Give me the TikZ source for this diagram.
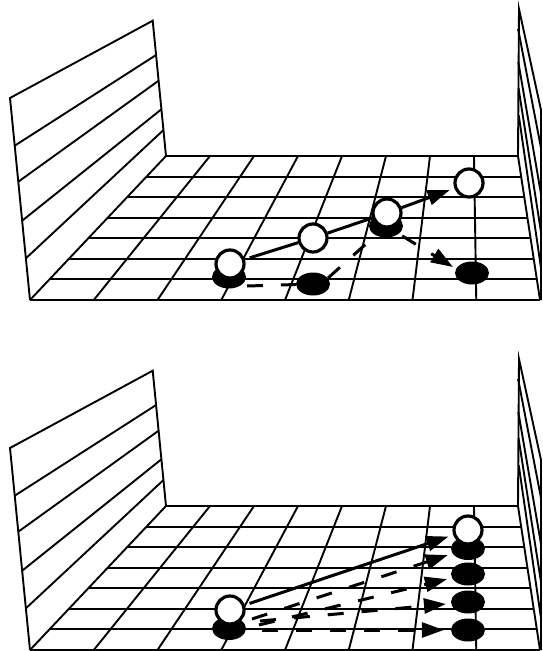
\documentclass[tikz,border=0pt]{standalone}
\usetikzlibrary{arrows.meta,shapes.geometric}
\pgfdeclarelayer{bg}
\pgfdeclarelayer{mid}
\pgfsetlayers{bg,mid,main}
\tikzset{
  gridline/.style={line width=1.9pt},
  ball/.style={circle, draw=black, fill=white, line width=3.2pt, minimum size=28pt, inner sep=0pt},
  blob/.style={ellipse, fill=black, draw=none, minimum width=34pt, minimum height=23pt, inner sep=0pt},
  solidarrow/.style={line width=3pt},
  dasharrow/.style={line width=3pt, dash pattern=on 16pt off 18pt},
  tipped/.style={-{Triangle[length=22pt,width=15pt]}}
}
\newcommand\drawroom[1]{%
  \begin{scope}[shift={(0,#1)}]
    % floor
    \foreach \j in {0,...,7}{
      \pgfmathsetmacro\yy{156+\j*144/7}
      \pgfmathsetmacro\xl{166-(\j/7)*136}
      \pgfmathsetmacro\xr{518+(\j/7)*22}
      \draw[gridline] (\xl,\yy) -- (\xr,\yy);
    }
    \foreach \i in {0,...,8}{
      \draw[gridline] ({166+44*\i},156) -- ({30+63.75*\i},300);
    }
    % left wall
    \draw[gridline] (30,300) -- (10,98) -- (152.7,20.7) -- (166,156);
    \draw[gridline] (14.7,145.7) -- (156.1,55);
    \draw[gridline] (18.3,181.7) -- (158.6,80.7);
    \draw[gridline] (22.2,220.7) -- (161.4,109.3);
    \draw[gridline] (25.9,258.3) -- (163.5,130);
    % right wall
    \draw[gridline] (518,156) -- (519,9) -- (541,110) -- (541,300);
    \draw[gridline] (518.1,29) -- (541,148);
    \draw[gridline] (518.3,62) -- (541,194);
    \draw[gridline] (518.5,88) -- (541,232);
    \draw[gridline] (518.7,115) -- (541,268);
  \end{scope}}
\begin{document}
\begin{tikzpicture}[x=1pt,y=-1pt]
\useasboundingbox (0,0) rectangle (542,651);
\begin{pgfonlayer}{bg}
  \fill[white] (0,0) rectangle (542,651);
  \drawroom{0}
  \drawroom{350}
\end{pgfonlayer}

% ---------- top panel ----------
\node[blob] (As) at (229,277) {};
\node[ball] (A) at (230,264) {};
\node[ball] (B) at (313,238) {};
\node[blob] (E) at (313,284) {};
\node[blob] (Cs) at (386,226) {};
\node[ball] (C) at (387,213) {};
\node[ball] (D) at (469,183) {};
\node[blob] (F) at (472,273) {};
\coordinate (a1) at (247,286);
\coordinate (e1) at (328,278);
\coordinate (tF) at (453,267);

\begin{pgfonlayer}{mid}
  \draw[solidarrow, shorten <=5pt] (A) -- (B);
  \draw[solidarrow] (B) -- (C);
  \draw[solidarrow, tipped, shorten >=5pt] (C) -- (D);
  \draw[dasharrow] (a1) -- (E);
  \draw[dasharrow] (e1) -- (Cs);
  \draw[dasharrow, tipped, shorten <=4pt] (Cs) -- (tF);
\end{pgfonlayer}

% ---------- bottom panel ----------
\node[blob] (Ps) at (229,628.5) {};
\node[ball] (P) at (230,610) {};
\node[blob] (Q1) at (468,548.5) {};
\node[blob] (Q2) at (468,574) {};
\node[blob] (Q3) at (468,602) {};
\node[blob] (Q4) at (468,630) {};
\node[ball] (W) at (468,530) {};
\coordinate (s1) at (252,619);
\coordinate (s2) at (259,625);
\coordinate (s3) at (260,621);
\coordinate (s4) at (262,630);

\begin{pgfonlayer}{mid}
  \draw[solidarrow, tipped, shorten <=5pt, shorten >=5pt] (P) -- (W);
  \draw[dasharrow, tipped, shorten >=5pt] (s1) -- (Q1);
  \draw[dasharrow, tipped, shorten >=5pt] (s2) -- (Q2);
  \draw[dasharrow, tipped, shorten >=5pt] (s3) -- (Q3);
  \draw[dasharrow, tipped, shorten >=7pt] (s4) -- (Q4);
\end{pgfonlayer}
\end{tikzpicture}
\end{document}
